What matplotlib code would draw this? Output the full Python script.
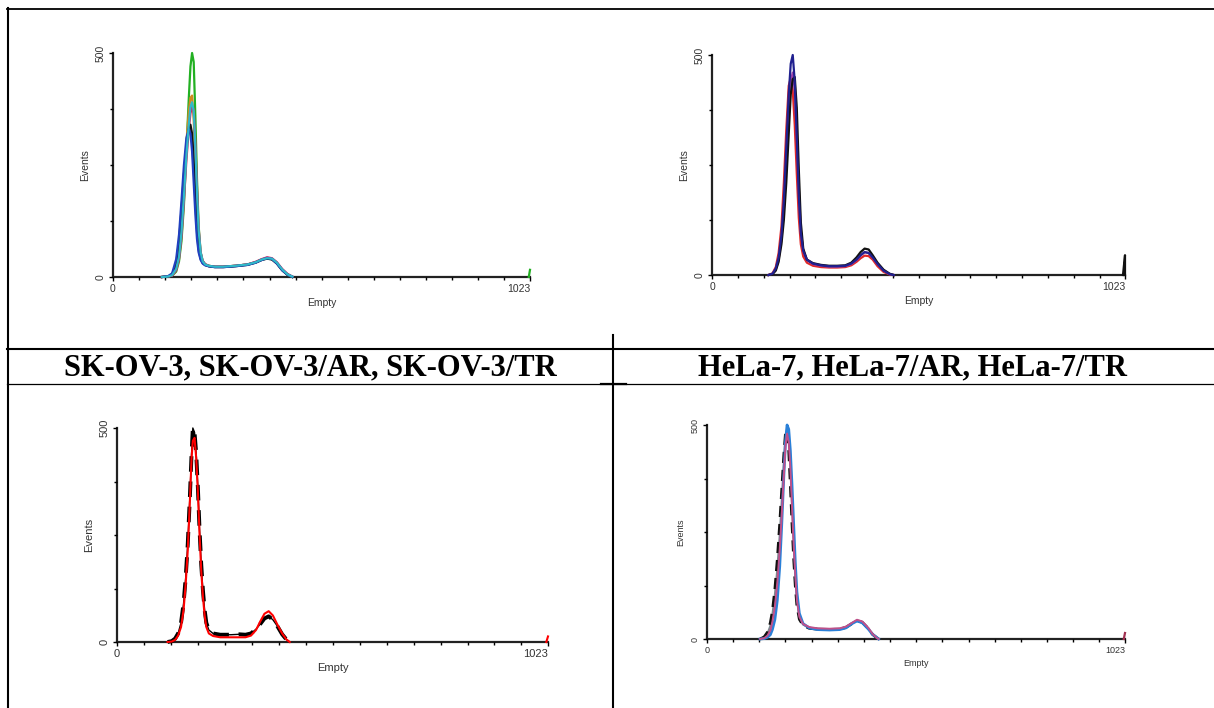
import matplotlib
matplotlib.use("Agg")
import matplotlib.pyplot as plt
from matplotlib.lines import Line2D

W, H = 1214, 708
DPI = 100

# ---------------- data ----------------
captions = ["SK-OV-3, SK-OV-3/AR, SK-OV-3/TR", "HeLa-7, HeLa-7/AR, HeLa-7/TR"]
x_label = "Empty"
y_label = "Events"
x_tick_labels = ["0", "1023"]
y_tick_labels = ["0", "500"]

# Panel 1 (top-left): SK-OV-3 overlays
ch1 = [120, 135, 145, 155, 162, 168, 174, 180, 186, 190, 194, 198, 202, 206, 210, 215,
       220, 226, 235, 250, 270, 300, 330, 350, 365, 378, 390, 402, 415, 428, 440]
p1_green = [0, 1, 3, 12, 35, 80, 160, 280, 400, 470, 500, 480, 360, 220, 115, 55,
            36, 28, 25, 23, 23, 25, 28, 33, 39, 42, 40, 31, 16, 5, 0]
p1_orange = [0, 1, 4, 20, 50, 110, 200, 300, 370, 400, 405, 350, 250, 150, 80, 45,
             33, 28, 25, 23, 23, 25, 28, 33, 39, 42, 40, 31, 16, 5, 0]
p1_magenta = [0, 1, 3, 15, 40, 90, 170, 260, 330, 365, 380, 375, 300, 200, 110, 55,
              36, 29, 25, 23, 23, 25, 28, 34, 40, 44, 42, 33, 18, 7, 1]
p1_purple = [0, 1, 5, 25, 60, 130, 210, 290, 336, 330, 300, 240, 170, 100, 60, 40,
             31, 27, 24, 23, 23, 25, 28, 33, 39, 43, 41, 32, 17, 6, 1]
p1_black = [0, 1, 6, 30, 80, 150, 230, 290, 330, 340, 320, 260, 180, 110, 65, 42,
            32, 27, 24, 22, 22, 24, 27, 32, 38, 41, 39, 30, 15, 5, 0]
p1_blue = [0, 2, 8, 40, 95, 170, 250, 310, 330, 320, 280, 210, 140, 85, 55, 38,
           30, 26, 24, 22, 22, 24, 27, 32, 38, 42, 40, 30, 15, 5, 0]
p1_cyan = [0, 1, 4, 18, 45, 100, 180, 270, 340, 380, 390, 370, 290, 190, 105, 55,
           35, 28, 25, 23, 23, 25, 28, 33, 39, 42, 41, 32, 17, 6, 1]
p1_spike_ch = [1020, 1023]
p1_spike_green = [0, 16]

# Panel 2 (top-right): HeLa-7 overlays
ch2 = [140, 150, 158, 165, 172, 178, 184, 190, 195, 200, 205, 210, 215, 220, 226, 235,
       250, 270, 290, 310, 330, 345, 358, 368, 378, 388, 398, 410, 425, 440, 450]
p2_red = [0, 4, 18, 50, 110, 210, 330, 430, 447, 420, 340, 230, 130, 70, 42, 28,
          21, 18, 17, 17, 18, 22, 30, 38, 44, 43, 35, 20, 7, 1, 0]
p2_purple = [0, 3, 12, 35, 80, 150, 260, 370, 440, 460, 420, 320, 200, 100, 55, 34,
             25, 21, 19, 19, 20, 25, 34, 44, 52, 50, 40, 25, 10, 2, 0]
p2_black = [0, 2, 10, 30, 70, 125, 210, 320, 410, 445, 450, 380, 240, 120, 60, 35,
            27, 23, 21, 21, 22, 28, 40, 52, 60, 58, 45, 28, 12, 3, 0]
p2_navy = [0, 3, 15, 40, 90, 170, 290, 410, 480, 500, 440, 310, 180, 95, 55, 35,
           26, 22, 20, 20, 21, 26, 35, 45, 52, 50, 40, 25, 10, 2, 0]
p2_spike_ch = [1018, 1023, 1023]
p2_spike_black = [0, 45, 0]

# Panel 3 (bottom-left): two overlays
ch3 = [120, 130, 138, 145, 152, 158, 163, 168, 173, 177, 180, 184, 188, 192, 196, 200,
       204, 208, 212, 218, 228, 245, 270, 290, 305, 318, 330, 340, 350, 360, 370, 380,
       392, 402, 410]
p3_black = [0, 2, 8, 20, 45, 90, 150, 230, 340, 440, 500, 490, 440, 360, 260, 180,
            120, 75, 45, 28, 20, 17, 17, 18, 17, 20, 30, 42, 55, 60, 52, 38,
            18, 6, 0]
p3_red = [0, 1, 5, 15, 35, 75, 135, 215, 330, 430, 470, 477, 430, 350, 250, 165,
          105, 62, 35, 20, 14, 11, 11, 11, 11, 15, 28, 48, 66, 72, 62, 42,
          20, 6, 0]
p3_spike_ch = [1019, 1023]
p3_spike_red = [0, 13]

# Panel 4 (bottom-right): HeLa overlays
ch4 = [130, 140, 148, 155, 160, 166, 172, 178, 183, 188, 192, 196, 200, 204, 208, 212,
       216, 220, 226, 235, 250, 270, 300, 325, 340, 355, 367, 380, 395, 405, 415, 420]
p4_gray = [0, 4, 12, 30, 55, 100, 160, 240, 320, 410, 470, 490, 470, 410, 320, 230,
           150, 95, 53, 34, 26, 24, 23, 24, 28, 37, 43, 39, 24, 11, 3, 0]
p4_pink = [0, 2, 8, 20, 40, 75, 130, 210, 290, 380, 450, 480, 460, 400, 310, 220,
           150, 90, 52, 35, 28, 25, 24, 25, 29, 38, 45, 41, 26, 12, 3, 0]
p4_black = [0, 5, 16, 38, 65, 115, 185, 270, 350, 430, 480, 489, 440, 360, 270, 190,
            125, 78, 46, 32, 25, 23, 22, 23, 27, 36, 43, 39, 24, 11, 3, 0]
p4_blue = [0, 1, 4, 10, 22, 45, 90, 170, 270, 380, 460, 500, 490, 440, 360, 270,
           180, 110, 60, 36, 26, 22, 21, 22, 26, 36, 42, 38, 23, 11, 4, 0]
p4_spike_ch = [1020, 1023]
p4_spike_pink = [0, 14]

XMAX = 1023
YMAX = 500

fig = plt.figure(figsize=(W / DPI, H / DPI), dpi=DPI)
fig.patch.set_facecolor("white")

sans = ["Liberation Sans", "DejaVu Sans"]
serif = ["Liberation Serif", "DejaVu Serif"]


def px_axes(left, top, right, bottom):
    return fig.add_axes([left / W, 1 - bottom / H, (right - left) / W, (bottom - top) / H])


def setup(ax, fs):
    ax.set_xlim(0, XMAX)
    ax.set_ylim(0, YMAX)
    for s in ("top", "right"):
        ax.spines[s].set_visible(False)
    for s in ("left", "bottom"):
        ax.spines[s].set_linewidth(1.6)
        ax.spines[s].set_color("#222222")
        ax.spines[s].set_zorder(1)
    ax.set_xticks([0, XMAX])
    ax.set_xticklabels(x_tick_labels, fontsize=fs, family=sans, color="#333333")
    ax.set_xticks(list(range(64, XMAX, 64)), minor=True)
    ax.set_yticks([0, YMAX])
    ax.set_yticklabels(y_tick_labels, fontsize=fs, family=sans, color="#333333",
                       rotation=90, va="center")
    ax.set_yticks([125, 250, 375], minor=True)
    ax.tick_params(axis="x", which="major", length=3, width=1, pad=2)
    ax.tick_params(axis="x", which="minor", length=2, width=1)
    ax.tick_params(axis="y", which="major", length=3, width=1, pad=2)
    ax.tick_params(axis="y", which="minor", length=2, width=1)
    labs = ax.get_xticklabels()
    labs[-1].set_horizontalalignment("right")
    ax.set_xlabel(x_label, fontsize=fs, family=sans, color="#333333", labelpad=3)
    ax.set_ylabel(y_label, fontsize=fs, family=sans, color="#333333", labelpad=4)
    ax.set_facecolor("none")


def line(ax, x, y, color, lw=1.6, **kw):
    ax.plot(x, y, color=color, lw=lw, clip_on=False, solid_joinstyle="round", zorder=2, **kw)


# Panel 1
ax1 = px_axes(113, 53, 530, 277)
setup(ax1, 7.5)
line(ax1, ch1, p1_green, "#22b022")
line(ax1, ch1, p1_orange, "#d08a20")
line(ax1, ch1, p1_magenta, "#d82060")
line(ax1, ch1, p1_purple, "#7a3d9a")
line(ax1, ch1, p1_black, "#111111")
line(ax1, ch1, p1_blue, "#2040c0")
line(ax1, ch1, p1_cyan, "#30b8c8")
line(ax1, p1_spike_ch, p1_spike_green, "#22b022")

# Panel 2
ax2 = px_axes(712, 55, 1125, 275)
setup(ax2, 7.5)
line(ax2, ch2, p2_red, "#e02828")
line(ax2, ch2, p2_purple, "#9a40a8")
line(ax2, ch2, p2_black, "#111111")
line(ax2, ch2, p2_navy, "#20208f")
line(ax2, p2_spike_ch, p2_spike_black, "#111111")

# Panel 3
ax3 = px_axes(117, 428, 548, 642)
setup(ax3, 8)
line(ax3, ch3, p3_black, "#000000", lw=1.0)
line(ax3, ch3, p3_black, "#000000", lw=2.8, dashes=(4, 2.5))
line(ax3, ch3, p3_red, "#ff0000", lw=1.5)
line(ax3, p3_spike_ch, p3_spike_red, "#ff0000", lw=1.5)

# Panel 4
ax4 = px_axes(707, 425, 1125, 639)
setup(ax4, 6.5)
line(ax4, ch4, p4_gray, "#7a8a90")
line(ax4, ch4, p4_black, "#111111", lw=2.0, dashes=(4, 2.5))
line(ax4, ch4, p4_blue, "#2a80d8", lw=2.0)
line(ax4, ch4, p4_pink, "#c0508a", lw=1.4)
line(ax4, p4_spike_ch, p4_spike_pink, "#a03050")

# Table rules (figure pixel coordinates)
def hline(y, x0, x1, lw):
    fig.add_artist(Line2D([x0 / W, x1 / W], [1 - y / H, 1 - y / H], color="black",
                          lw=lw, transform=fig.transFigure))


def vline(x, y0, y1, lw):
    fig.add_artist(Line2D([x / W, x / W], [1 - y0 / H, 1 - y1 / H], color="black",
                          lw=lw, transform=fig.transFigure))


hline(9, 7, W, 1.3)
vline(8, 8, H, 1.5)
vline(612.5, 335, H, 1.5)
hline(348.7, 7, W, 1.5)
hline(383.5, 7, W, 0.9)
hline(383.5, 601, 626, 1.6)

# Captions
fig.text(310 / W, 1 - 368 / H, captions[0], ha="center", va="center",
         family=serif, fontweight="bold", fontsize=22)
fig.text(913 / W, 1 - 368 / H, captions[1], ha="center", va="center",
         family=serif, fontweight="bold", fontsize=22)

fig.savefig("out.png", dpi=DPI, facecolor="white")
